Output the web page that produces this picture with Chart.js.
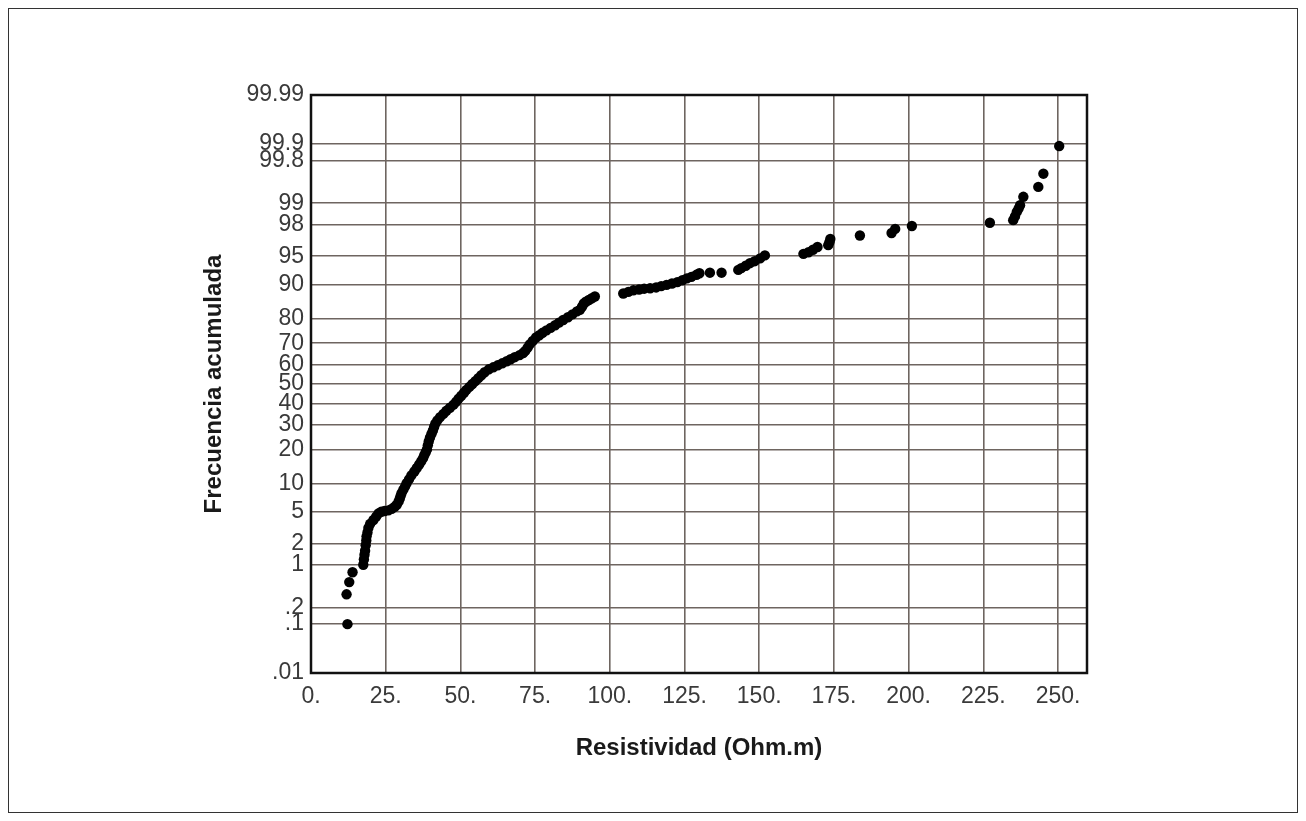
<!DOCTYPE html>
<html>
<head>
<meta charset="utf-8">
<script src="https://cdn.jsdelivr.net/npm/chart.js@4"></script>
<style>
  html, body { margin: 0; padding: 0; background: #fff; }
  #wrap { position: relative; width: 1306px; height: 821px; }
</style>
</head>
<body>
<div id="wrap"><canvas id="probchart"></canvas></div>
<script>
// Resistivity values (Ohm.m)
const resistivity = [
    12.2, 11.9, 12.8, 13.9,
    17.5, 17.7, 17.9, 18.1, 18.3, 18.5, 18.6, 18.9, 19.2, 19.8,
    20.9, 21.8, 22.6, 23.5, 24.6, 25.9, 27.0, 28.0, 28.7, 29.3, 29.7, 30.0, 30.3, 30.9, 31.5,
    32.0, 32.8, 33.6, 34.6, 35.4, 36.2, 36.9, 37.5, 37.9, 38.4, 38.8, 39.1, 39.4, 39.8, 40.3,
    40.8, 41.2, 41.6, 42.3, 43.2, 44.3, 45.3, 46.5, 47.7, 48.6, 49.4, 50.3, 51.2, 52.0, 53.0,
    54.0, 55.0, 56.0, 57.0, 58.1, 59.5, 61.0, 62.5, 64.0, 65.5, 66.8, 68.2, 69.8, 71.0, 71.7,
    72.5, 73.2, 74.2, 75.3, 76.4, 77.5, 78.8, 80.2, 81.7, 83.0, 84.4, 86.0, 87.5, 89.0, 90.0,
    90.7, 91.3, 92.0, 93.0, 94.0, 95.0,
    104.5, 106.2, 107.9, 109.8, 111.5, 113.5, 115.5, 117.2, 119.0, 120.8, 122.6, 124.3, 125.8,
    127.3, 129.0, 130.0, 133.5, 137.4, 143.0, 144.0, 145.5, 146.9, 148.5, 150.3, 151.9,
    164.8, 166.5, 168.0, 169.5, 173.1, 173.5, 173.8, 183.7, 194.3, 195.5, 201.1,
    227.2, 235.0, 235.6, 236.2, 236.8, 237.3, 238.4, 243.4, 245.1, 250.4
];

// Cumulative frequency (%) for each point above
const cumFreq = [
    0.1, 0.34, 0.54, 0.77,
    1.0, 1.2, 1.4, 1.6, 1.9, 2.2, 2.5, 2.8, 3.2, 3.6,
    4.0, 4.4, 4.8, 5.0, 5.1, 5.2, 5.4, 5.7, 6.0, 6.5, 7.0, 7.5, 8.0, 8.7, 9.4,
    10.1, 11.0, 12.0, 13.0, 14.0, 15.0, 16.0, 17.0, 18.0, 19.0, 20.0, 21.5, 23.0, 24.5, 26.0,
    27.5, 29.0, 30.5, 32.0, 33.5, 35.0, 36.5, 38.0, 39.5, 41.0, 42.5, 44.0, 45.5, 47.0, 48.5,
    50.0, 51.5, 53.0, 54.5, 56.0, 57.5, 58.5, 59.5, 60.5, 61.5, 62.5, 63.5, 64.5, 65.5, 66.5,
    68.0, 69.5, 71.0, 72.5, 73.5, 74.5, 75.5, 76.5, 77.5, 78.5, 79.5, 80.5, 81.5, 82.5, 83.0,
    84.0, 85.0, 85.5, 86.0, 86.5, 87.0,
    87.8, 88.2, 88.6, 88.8, 89.0, 89.1, 89.3, 89.6, 89.9, 90.2, 90.5, 90.9, 91.3,
    91.6, 92.0, 92.3, 92.4, 92.4, 92.9, 93.2, 93.6, 94.0, 94.3, 94.7, 95.1,
    95.3, 95.5, 95.8, 96.1, 96.3, 96.6, 96.9, 97.2, 97.4, 97.7, 97.9,
    98.1, 98.25, 98.45, 98.66, 98.8, 98.93, 99.2, 99.44, 99.66, 99.89
];

// Axis ticks
const xTicks = [0, 25, 50, 75, 100, 125, 150, 175, 200, 225, 250];
const xTickLabels = ['0.', '25.', '50.', '75.', '100.', '125.', '150.', '175.', '200.', '225.', '250.'];
const yTickProbs = [0.01, 0.1, 0.2, 1, 2, 5, 10, 20, 30, 40, 50, 60, 70, 80, 90, 95, 98, 99, 99.8, 99.9, 99.99];
const yTickLabels = ['.01', '.1', '.2', '1', '2', '5', '10', '20', '30', '40', '50', '60', '70', '80', '90', '95', '98', '99', '99.8', '99.9', '99.99'];

// Inverse of the standard normal CDF (Acklam) - gives the probability-paper scale
function probit(p) {
    const a = [-3.969683028665376e+01, 2.209460984245205e+02, -2.759285104469687e+02, 1.383577518672690e+02, -3.066479806614716e+01, 2.506628277459239e+00];
    const b = [-5.447609879822406e+01, 1.615858368580409e+02, -1.556989798598866e+02, 6.680131188771972e+01, -1.328068155288572e+01];
    const c = [-7.784894002430293e-03, -3.223964580411365e-01, -2.400758277161838e+00, -2.549732539343734e+00, 4.374664141464968e+00, 2.938163982698783e+00];
    const d = [7.784695709041462e-03, 3.224671290700398e-01, 2.445134137142996e+00, 3.754408661907416e+00];
    const pl = 0.02425;
    if (p < pl) {
        const q = Math.sqrt(-2 * Math.log(p));
        return (((((c[0] * q + c[1]) * q + c[2]) * q + c[3]) * q + c[4]) * q + c[5]) / ((((d[0] * q + d[1]) * q + d[2]) * q + d[3]) * q + 1);
    }
    if (p > 1 - pl) {
        const q = Math.sqrt(-2 * Math.log(1 - p));
        return -(((((c[0] * q + c[1]) * q + c[2]) * q + c[3]) * q + c[4]) * q + c[5]) / ((((d[0] * q + d[1]) * q + d[2]) * q + d[3]) * q + 1);
    }
    const q = p - 0.5, r = q * q;
    return (((((a[0] * r + a[1]) * r + a[2]) * r + a[3]) * r + a[4]) * r + a[5]) * q / (((((b[0] * r + b[1]) * r + b[2]) * r + b[3]) * r + b[4]) * r + 1);
}

const points = resistivity.map((x, i) => ({ x: x, y: probit(cumFreq[i] / 100) }));

const gridColor = '#6e6560';
const tickFont = { family: 'Liberation Sans, Arial, sans-serif', size: 23 };
const titleFont = { family: 'Liberation Sans, Arial, sans-serif', size: 24, weight: 'bold' };

// Outer frame of the figure and the box round the plot area
const framePlugin = {
    id: 'frames',
    beforeDraw(chart) {
        const ctx = chart.ctx;
        ctx.save();
        ctx.fillStyle = '#fff';
        ctx.fillRect(0, 0, chart.width, chart.height);
        ctx.strokeStyle = '#333';
        ctx.lineWidth = 1;
        ctx.strokeRect(8.5, 8.5, chart.width - 17, chart.height - 17);
        ctx.restore();
    },
    beforeDatasetsDraw(chart) {
        const a = chart.chartArea;
        const ctx = chart.ctx;
        ctx.save();
        ctx.strokeStyle = '#111';
        ctx.lineWidth = 2.5;
        ctx.strokeRect(a.left, a.top, a.right - a.left, a.bottom - a.top);
        ctx.restore();
    }
};

new Chart(document.getElementById('probchart'), {
    type: 'scatter',
    data: {
        datasets: [{
            label: 'Resistividad',
            data: points,
            backgroundColor: '#000',
            borderWidth: 0,
            pointRadius: 5.2
        }]
    },
    options: {
        responsive: true,
        maintainAspectRatio: false,
        animation: false,
        layout: { padding: { left: 200, top: 95, right: 219, bottom: 58 } },
        plugins: {
            legend: { display: false },
            tooltip: { enabled: false }
        },
        scales: {
            x: {
                type: 'linear',
                min: 0,
                max: 259.7,
                afterBuildTicks(scale) {
                    scale.ticks = xTicks.map(v => ({ value: v }));
                },
                afterFit(scale) { scale.height = 821 - 58 - 673; },
                grid: { color: gridColor, lineWidth: 1.6, drawTicks: false },
                border: { display: false },
                ticks: {
                    autoSkip: false,
                    maxRotation: 0,
                    padding: 10,
                    color: '#3a3a3a',
                    font: tickFont,
                    callback: (value, index) => xTickLabels[index]
                },
                title: {
                    display: true,
                    text: 'Resistividad (Ohm.m)',
                    color: '#1a1a1a',
                    font: titleFont,
                    padding: 0
                }
            },
            y: {
                type: 'linear',
                min: probit(0.0001),
                max: probit(0.9999),
                afterBuildTicks(scale) {
                    scale.ticks = yTickProbs.map(p => ({ value: probit(p / 100) }));
                },
                afterFit(scale) { scale.width = 311 - 200; },
                grid: { color: gridColor, lineWidth: 1.6, drawTicks: false },
                border: { display: false },
                ticks: {
                    autoSkip: false,
                    padding: 7,
                    color: '#3a3a3a',
                    font: tickFont,
                    callback: (value, index) => yTickLabels[index]
                },
                title: {
                    display: true,
                    text: 'Frecuencia acumulada',
                    color: '#1a1a1a',
                    font: titleFont,
                    padding: 0
                }
            }
        }
    },
    plugins: [framePlugin]
});
</script>
</body>
</html>
